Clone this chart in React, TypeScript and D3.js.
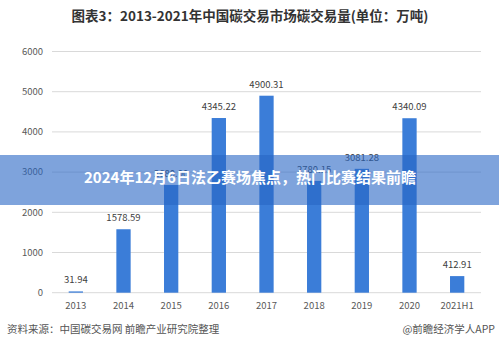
import React, { useEffect, useRef } from 'react';
import * as d3 from 'd3';

const years = ['2013', '2014', '2015', '2016', '2017', '2018', '2019', '2020', '2021H1'];
const volumes = [31.94, 1578.59, 2680, 4345.22, 4900.31, 2780.15, 3081.28, 4340.09, 412.91];
const yTicks = [0, 1000, 2000, 3000, 4000, 5000, 6000];

const W = 499;
const H = 354;
const font = '"Noto Sans CJK SC", "Noto Sans", sans-serif';

const App = () => {
  const ref = useRef<SVGSVGElement>(null);

  useEffect(() => {
    const svg = d3.select(ref.current);
    svg.selectAll('*').remove();

    const x = d3.scaleBand().domain(years).range([52, 481]).paddingInner(0.7).paddingOuter(0.35);
    const y = d3.scaleLinear().domain([0, 6000]).range([292.7, 51.5]);

    svg.append('rect').attr('width', W).attr('height', H).attr('fill', '#fff');

    // title
    svg
      .append('text')
      .attr('x', 250)
      .attr('y', 21)
      .attr('text-anchor', 'middle')
      .attr('font-family', font)
      .attr('font-size', 13.5)
      .attr('font-weight', 'bold')
      .attr('fill', '#333')
      .text('图表3：2013-2021年中国碳交易市场碳交易量(单位：万吨)');

    // grid + y labels
    svg
      .selectAll('line.grid')
      .data(yTicks)
      .enter()
      .append('line')
      .attr('x1', 52)
      .attr('x2', 481)
      .attr('y1', (d) => y(d))
      .attr('y2', (d) => y(d))
      .attr('stroke', '#d9d9d9')
      .attr('stroke-width', 1);

    svg
      .selectAll('text.ytick')
      .data(yTicks)
      .enter()
      .append('text')
      .attr('x', 43)
      .attr('y', (d) => y(d))
      .attr('dy', '0.35em')
      .attr('text-anchor', 'end')
      .attr('font-family', font)
      .attr('font-size', 9.5)
      .attr('fill', '#595959')
      .text((d) => d);

    // bars
    svg
      .selectAll('rect.bar')
      .data(volumes)
      .enter()
      .append('rect')
      .attr('x', (_, i) => x(years[i])!)
      .attr('y', (d) => y(d))
      .attr('width', x.bandwidth())
      .attr('height', (d) => y(0) - y(d))
      .attr('fill', '#3b7dd8');

    svg
      .selectAll('text.val')
      .data(volumes)
      .enter()
      .append('text')
      .attr('x', (_, i) => x(years[i])! + x.bandwidth() / 2)
      .attr('y', (d) => y(d) - 8)
      .attr('text-anchor', 'middle')
      .attr('font-family', font)
      .attr('font-size', 9.5)
      .attr('fill', '#404040')
      .text((d) => d.toFixed(2));

    svg
      .selectAll('text.xtick')
      .data(years)
      .enter()
      .append('text')
      .attr('x', (d) => x(d)! + x.bandwidth() / 2)
      .attr('y', 309)
      .attr('text-anchor', 'middle')
      .attr('font-family', font)
      .attr('font-size', 9.5)
      .attr('fill', '#595959')
      .text((d) => d);

    // footer
    svg
      .append('text')
      .attr('x', 7)
      .attr('y', 333)
      .attr('font-family', font)
      .attr('font-size', 10.5)
      .attr('fill', '#555')
      .text('资料来源：中国碳交易网 前瞻产业研究院整理');

    svg
      .append('text')
      .attr('x', 495)
      .attr('y', 333)
      .attr('text-anchor', 'end')
      .attr('font-family', font)
      .attr('font-size', 10.5)
      .attr('fill', '#555')
      .text('@前瞻经济学人APP');

    // banner overlay
    svg
      .append('rect')
      .attr('x', 0)
      .attr('y', 155)
      .attr('width', W)
      .attr('height', 50)
      .attr('fill', 'rgba(40,102,197,0.6)');

    svg
      .append('text')
      .attr('x', 250)
      .attr('y', 178)
      .attr('dy', '0.35em')
      .attr('text-anchor', 'middle')
      .attr('font-family', font)
      .attr('font-size', 15)
      .attr('font-weight', 'bold')
      .attr('fill', '#fff')
      .text('2024年12月6日法乙赛场焦点，热门比赛结果前瞻');
  }, []);

  return (
    <svg
      ref={ref}
      width={W}
      height={H}
      style={{ position: 'absolute', left: 0, top: 0, display: 'block' }}
    ></svg>
  );
};

export default App;
